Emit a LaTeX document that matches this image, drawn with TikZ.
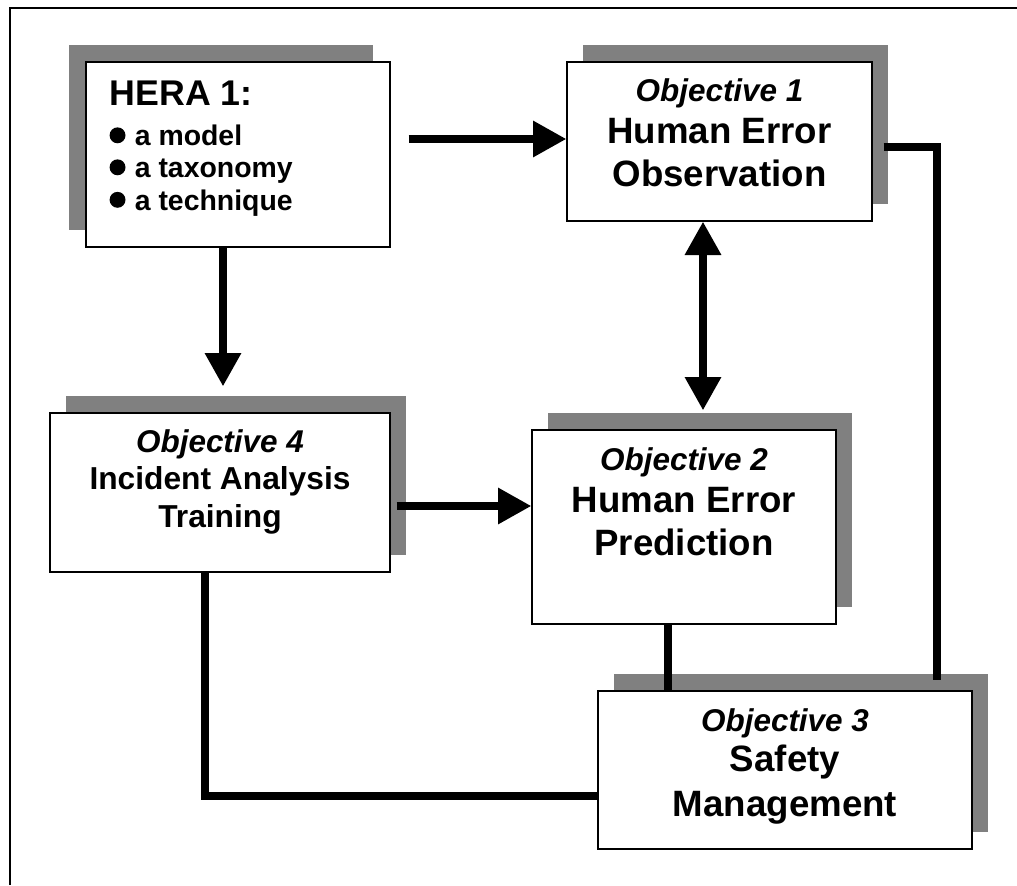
\documentclass[tikz,border=0pt]{standalone}
\usepackage{fontspec}
\setmainfont{Liberation Sans}
\usetikzlibrary{arrows.meta,shadows,calc}
\definecolor{shade}{RGB}{128,128,128}
% round bullet sized to the surrounding text
\newcommand\bulletdot{\tikz[baseline=0pt]\fill (0.28em,0.37em) circle (0.28em);\hspace{0.33em}}

\begin{document}
\begin{tikzpicture}[x=0.75pt,y=-0.75pt,
  box/.style={draw=black, line width=1pt, fill=white, inner sep=0pt},
  sz/.style 2 args={minimum width=#1*0.75pt, minimum height=#2*0.75pt},
  shdR/.style={drop shadow={shadow xshift=12pt, shadow yshift=12.4pt, fill=shade, opacity=1}},
  shdL/.style={drop shadow={shadow xshift=-12.75pt, shadow yshift=12.75pt, fill=shade, opacity=1}},
  txt/.style={anchor=base, inner sep=0pt},
  ttl/.style={txt, font=\fontsize{23.6pt}{28pt}\selectfont\bfseries\itshape},
  big/.style={txt, font=\fontsize{27.5pt}{33pt}\selectfont\bfseries},
  mid/.style={txt, font=\fontsize{23.8pt}{28pt}\selectfont\bfseries},
  head/.style={anchor=base west, inner sep=0pt, font=\fontsize{26.8pt}{32pt}\selectfont\bfseries},
  item/.style={anchor=base west, inner sep=0pt, font=\fontsize{21.3pt}{26pt}\selectfont\bfseries},
  conn/.style={line width=5.6pt},
  arr/.style={conn, -{Triangle[width=26pt,length=25pt]}},
  dblarr/.style={conn, {Triangle[width=26pt,length=25pt]}-{Triangle[width=26pt,length=25pt]}}
]
\useasboundingbox (0,0) rectangle (1017,885);

% frame (top and left edges)
\draw[line width=1.5pt] (10,885) -- (10,7.8) -- (1017,7.8);

% boxes
\node[box,shdL,sz={304}{185}] (hera) at (238,154.5) {};
\node[box,shdR,sz={305}{159}] (o1) at (719.5,141.5) {};
\node[box,shdR,sz={340}{159}] (o4) at (220,492.5) {};
\node[box,shdR,sz={304}{194}] (o2) at (684,527) {};
\node[box,shdR,sz={374}{158}] (o3) at (785,770) {};

% HERA 1 text
\node[head] (h0) at ($(hera.north west)+(24,44)$) {HERA 1:};
\node[item] (h1) at ($(hera.north west)+(24,84.5)$) {\bulletdot a model};
\node[item] (h2) at ($(hera.north west)+(24,116.5)$) {\bulletdot a taxonomy};
\node[item] (h3) at ($(hera.north west)+(24,149)$) {\bulletdot a technique};

% Objective 1
\node[ttl] (o1a) at ($(o1.north)+(0,40)$) {Objective 1};
\node[big] (o1b) at ($(o1.north)+(0,82)$) {Human Error};
\node[big] (o1c) at ($(o1.north)+(0,125)$) {Observation};

% Objective 2
\node[ttl] (o2a) at ($(o2.north)+(0,40.7)$) {Objective 2};
\node[big] (o2b) at ($(o2.north)+(0,82.7)$) {Human Error};
\node[big] (o2c) at ($(o2.north)+(0,126)$) {Prediction};

% Objective 3
\node[ttl] (o3a) at ($(o3.north)+(0,40.7)$) {Objective 3};
\node[big] (o3b) at ($(o3.north)+(0,80.7)$) {Safety};
\node[big] (o3c) at ($(o3.north)+(0,125.7)$) {Management};

% Objective 4
\node[ttl] (o4a) at ($(o4.north)+(0,39.7)$) {Objective 4};
\node[mid] (o4b) at ($(o4.north)+(0,77)$) {Incident Analysis};
\node[mid] (o4c) at ($(o4.north)+(0,115.3)$) {Training};

% connectors
\draw[arr] ($(hera.east |- o1.west)+(18,-2.5)$) -- ($(o1.west)+(0,-2.5)$);
\draw[arr] ($(hera.south -| o4.north)+(3,0)$) -- ($(o4.north)+(3,-26)$);
\draw[dblarr] ($(o1.south)+(-16.5,0)$) -- ($(o2.north)+(19,-19)$);
\draw[arr] ($(o4.east)+(6,13.5)$) -- ($(o2.west)+(0,-21)$);
\draw[conn] ($(o1.east)+(11,5.5)$) -| ($(o3.north)+(152,-10)$);
\draw[conn] ($(o2.south)+(-16,0)$) -- ($(o3.north)+(-117,0)$);
\draw[conn] ($(o4.south)+(-15,0)$) |- ($(o3.west)+(0,26)$);
\end{tikzpicture}
\end{document}
